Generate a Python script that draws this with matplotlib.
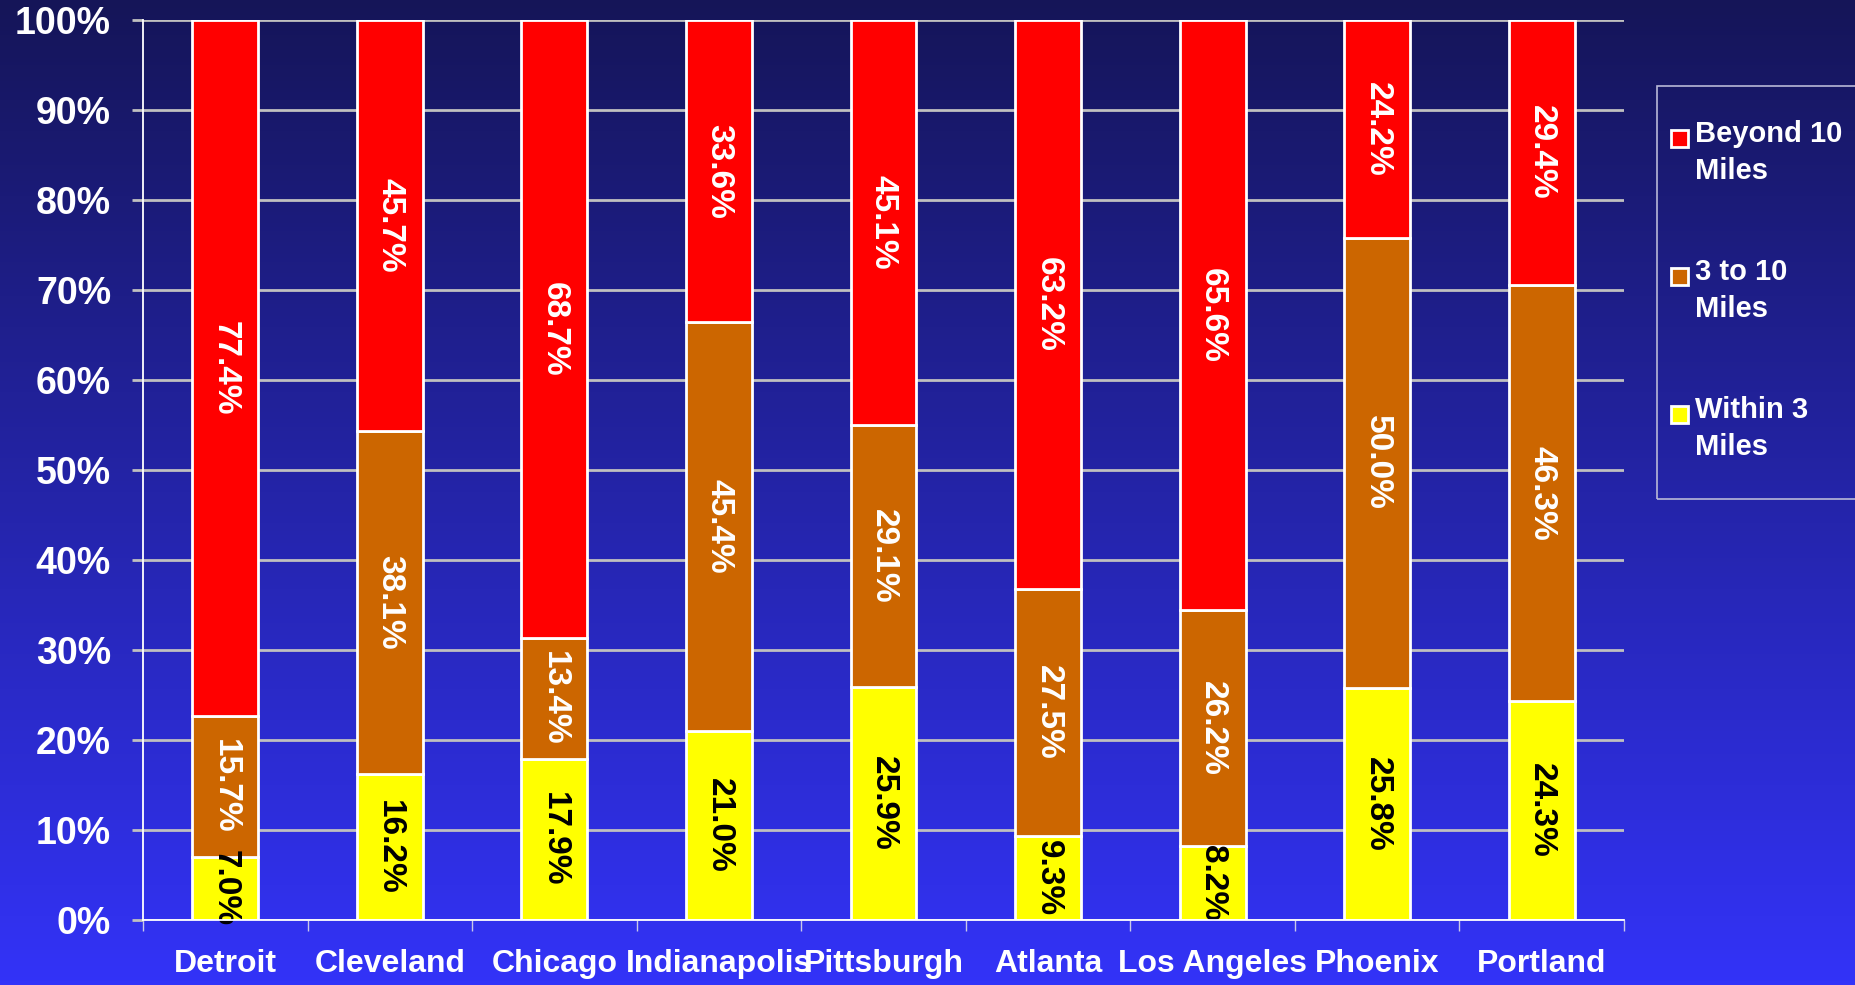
import numpy as np
import matplotlib
matplotlib.use("Agg")
import matplotlib.pyplot as plt
from matplotlib.patches import Rectangle

plt.rcParams['font.family'] = ['Liberation Sans', 'DejaVu Sans']
plt.rcParams['font.weight'] = 'bold'

cities = ["Detroit", "Cleveland", "Chicago", "Indianapolis", "Pittsburgh",
          "Atlanta", "Los Angeles", "Phoenix", "Portland"]
within_3 = [7.0, 16.2, 17.9, 21.0, 25.9, 9.3, 8.2, 25.8, 24.3]
three_to_10 = [15.7, 38.1, 13.4, 45.4, 29.1, 27.5, 26.2, 50.0, 46.3]
beyond_10 = [77.4, 45.7, 68.7, 33.6, 45.1, 63.2, 65.6, 24.2, 29.4]
series_names = ["Within 3\nMiles", "3 to 10\nMiles", "Beyond 10\nMiles"]
series_colors = ["#ffff00", "#cc6600", "#ff0000"]
text_colors = ["black", "white", "white"]
y_ticks = np.arange(0, 101, 10)

W, H = 1856, 985
fig = plt.figure(figsize=(W / 100, H / 100), dpi=100)

# gradient background, dark navy at top to bright blue at bottom
bg = fig.add_axes([0, 0, 1, 1], zorder=-10)
top = np.array([0x15, 0x15, 0x58]) / 255
bot = np.array([0x33, 0x33, 0xf8]) / 255
t = np.linspace(0, 1, 256)[:, None]
grad = (top[None, :] * (1 - t) + bot[None, :] * t)[:, None, :]
bg.imshow(grad, aspect='auto', extent=[0, 1, 0, 1], origin='upper')
bg.axis('off')

ax = fig.add_axes([143 / W, 1 - 920 / H, (1624 - 143) / W, (920 - 20) / H])
ax.patch.set_alpha(0)

data = np.array([within_3, three_to_10, beyond_10])
totals = data.sum(axis=0)
pct = data / totals * 100
x = np.arange(len(cities))

bottom = np.zeros(len(cities))
for k in range(3):
    ax.bar(x, pct[k], 0.4, bottom=bottom, color=series_colors[k],
           edgecolor='white', linewidth=2, zorder=3)
    for i in range(len(cities)):
        ax.text(x[i], bottom[i] + pct[k][i] / 2, f"{data[k][i]:.1f}%",
                rotation=-90, ha='center', va='center', fontsize=24,
                fontweight='bold', color=text_colors[k], zorder=4)
    bottom += pct[k]

ax.set_xlim(-0.5, len(cities) - 0.5)
ax.set_ylim(0, 100)
ax.set_yticks(y_ticks)
ax.set_yticklabels([f"{v}%" for v in y_ticks])
ax.set_xticks(x)
ax.set_xticklabels(cities)
ax.set_xticks(np.arange(-0.5, len(cities)), minor=True)

ax.grid(axis='y', color='#c0c0c0', linewidth=2, zorder=0)
ax.set_axisbelow(True)
for s in ['top', 'right']:
    ax.spines[s].set_visible(False)
for s in ['left', 'bottom']:
    ax.spines[s].set_color('white')
    ax.spines[s].set_linewidth(1.3)
    ax.spines[s].set_zorder(5)

ax.tick_params(axis='y', direction='out', length=8, width=2, color='#c0c0c0',
               pad=15, labelsize=27, labelcolor='white')
ax.tick_params(axis='x', which='major', length=0, pad=21, labelsize=23,
               labelcolor='white')
ax.tick_params(axis='x', which='minor', direction='out', length=8, width=1,
               color='#c8c8e8')
for lab in ax.get_xticklabels() + ax.get_yticklabels():
    lab.set_fontweight('bold')

# legend box, cut off by the right edge like the original slide
fig.add_artist(Rectangle((1657 / W, 1 - 499 / H), 240 / W, 413 / H,
                         transform=fig.transFigure, facecolor='none',
                         edgecolor='#b8b8d8', linewidth=1.2))
for j, k in enumerate([2, 1, 0]):
    ytop = 120 + j * 138
    fig.add_artist(Rectangle((1671 / W, 1 - (ytop + 27) / H), 17 / W, 17 / H,
                             transform=fig.transFigure,
                             facecolor=series_colors[k], edgecolor='white',
                             linewidth=2))
    fig.text(1695 / W, 1 - ytop / H, series_names[k], ha='left', va='top',
             fontsize=21, fontweight='bold', color='white', linespacing=1.4)

fig.savefig("out.png", dpi=100)
